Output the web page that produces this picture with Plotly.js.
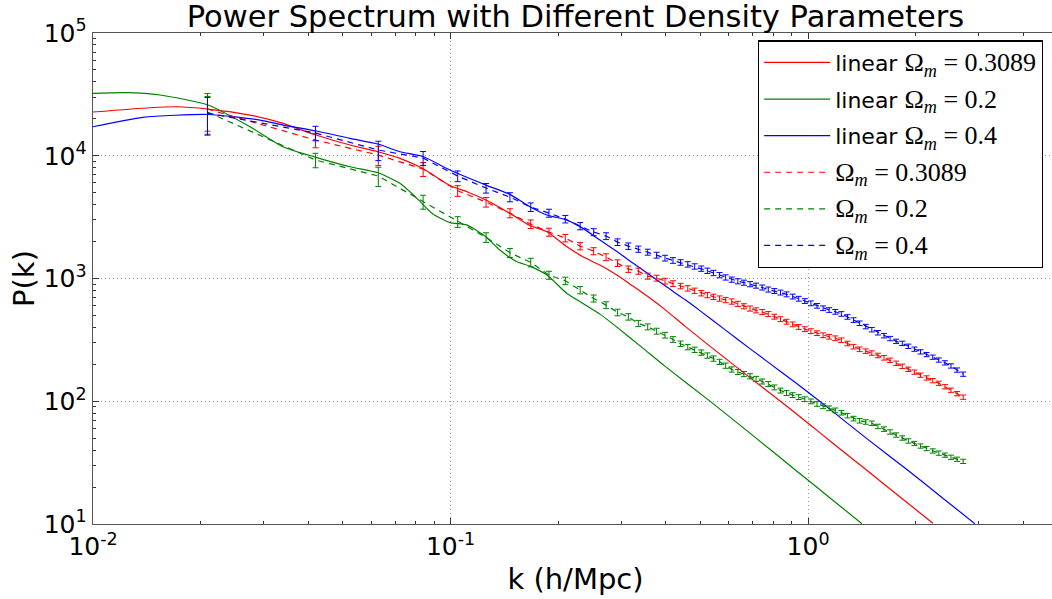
<!DOCTYPE html>
<html>
<head>
<meta charset="utf-8">
<script src="https://cdn.plot.ly/plotly-3.0.1.min.js"></script>
<style>
html,body{margin:0;padding:0;overflow:hidden;background:#fff;}
#plot{width:1058px;height:599px;}
</style>
</head>
<body>
<div id="plot"></div>
<script>
// ---------- data ----------
var seriesNames = [
  'linear <span style="font-family:Liberation Serif;font-size:26px">Ω<sub><i>m</i></sub> = 0.3089</span>',
  'linear <span style="font-family:Liberation Serif;font-size:26px">Ω<sub><i>m</i></sub> = 0.2</span>',
  'linear <span style="font-family:Liberation Serif;font-size:26px">Ω<sub><i>m</i></sub> = 0.4</span>',
  '<span style="font-family:Liberation Serif;font-size:26px">Ω<sub><i>m</i></sub> = 0.3089</span>',
  '<span style="font-family:Liberation Serif;font-size:26px">Ω<sub><i>m</i></sub> = 0.2</span>',
  '<span style="font-family:Liberation Serif;font-size:26px">Ω<sub><i>m</i></sub> = 0.4</span>'
];

// linear theory curves
var kLinRed = [0.01,0.01443,0.01706,0.02097,0.02748,0.03399,0.04204,0.05233,0.06266,0.07219,0.08318,0.09961,0.1112,0.1256,0.1466,0.1667,0.1861,0.2116,0.2346,0.2617,0.2919,0.3236,0.3611,0.4028,0.4524,0.5313,0.6573,0.8724,1.0,1.173,1.46,1.841,2.234];
var pLinRed = [22710,24610,25070,24020,21460,18370,14750,12230,10780,9524,7940,5716,5088,4355,3393,2699,2402,1813,1503,1286,1066,867,692.3,542.5,409.4,281.3,172.7,91.2,66.3,45.5,27.4,15.93,10.15];

var kLinGreen = [0.01,0.01237,0.01539,0.02097,0.02748,0.03399,0.04204,0.05233,0.06266,0.07219,0.08054,0.08929,0.09961,0.1112,0.1256,0.1374,0.1534,0.1667,0.1861,0.2116,0.2346,0.2617,0.2919,0.3451,0.3977,0.5313,0.6874,0.9305,1.166,1.414];
var pLinGreen = [32260,32620,31240,25900,17230,11840,9705,8137,7270,5960,4497,3349,2855,2724,2187,1704,1368,1262,1066,756,627,512.6,401.8,270.9,193.2,100.2,55.0,26.94,15.84,10.06];

var kLinBlue = [0.01,0.01379,0.02097,0.02931,0.03399,0.04204,0.05233,0.06266,0.07219,0.08373,0.09961,0.1256,0.1466,0.1667,0.1861,0.2116,0.2346,0.2617,0.2919,0.3236,0.3611,0.4028,0.4524,0.4981,0.5853,0.6874,0.8502,1.0,1.173,1.46,1.901,2.382,2.927];
var pLinBlue = [17230,20560,21670,19540,17790,15900,13860,12460,10780,9851,7648,5770,4845,3841,3287,2992,2561,2056,1657,1335,1066,851,673,547.4,383.3,268.4,169.4,118.6,82.3,49.6,27.4,16.23,10.06];

// measured spectra (dashed with error bars)
var kData = [0.0209,0.0419,0.0628,0.0838,0.1047,0.1257,0.1466,0.1676,0.1885,0.2094,0.2304,0.2513,0.2723,0.2932,0.3142,0.3351,0.3560,0.3770,0.3979,0.4189,0.4398,0.4608,0.4817,0.5027,0.5228,0.5437,0.5655,0.5881,0.6116,0.6361,0.6615,0.6880,0.7155,0.7441,0.7739,0.8048,0.8370,0.8705,0.9053,0.9415,0.9792,1.0184,1.0591,1.1015,1.1455,1.1913,1.2390,1.2886,1.3401,1.3937,1.4495,1.5075,1.5678,1.6305,1.6957,1.7635,1.8341,1.9074,1.9837,2.0631,2.1456,2.2314,2.3207,2.4135,2.5100,2.6104,2.7148];
var pRed = [24020,13430,10130,7792,5185,4195,3412,2776,2389,2135,1837,1672,1494,1335,1193,1149,1046,1008,952.4,910.4,868.8,832.1,795.5,759,733.8,709.5,687.1,668.1,649.6,622.1,594.6,569.5,550.6,533.3,513.6,489.2,466.8,444.6,423.4,403.2,387,372.7,358.9,345.1,335.5,326.2,314.2,295.8,278.6,265.3,256,247.1,236.2,225.8,215.9,204,192.9,182.3,172.7,163.2,154.9,147.2,140.2,131.3,123.1,115.3,108];
var pGreen = [22710,9226,6833,4218,2898,2163,1620,1353,1066,957.8,804.5,688.4,607,529.4,487.4,430.7,404.1,372.7,345.7,318.9,294.2,276.5,262.8,249.4,235.8,222.8,209.5,195.1,181.6,173.3,166.6,159.9,152.3,145,138.1,129.8,122.3,116.7,112.3,108.2,104,99.8,95.2,91.1,87.7,84.3,80.7,76.4,72.3,69.4,67.8,66.2,62.4,59.3,56.2,53.1,50.2,47.5,45.3,43.2,41.2,39.4,37.8,36.4,35,33.7,32.4];
var pBlue = [22280,15310,11130,9579,6833,5455,4607,3819,3412,3049,2674,2389,2216,1980,1837,1736,1641,1551,1467,1404,1353,1305,1255,1204,1157,1110,1066,1021,980,950,925,900,875,845,813.7,791,769,743.4,713.4,684.6,655.6,628,599.1,572.8,553.9,535.5,514.8,486.4,459,432.3,406.3,383.3,361.7,342.5,324.3,307.7,296.4,280.6,265.8,252.7,240.2,228.8,216.7,205.6,194,179.6,166.3];
// relative 1-sigma errors of the measured points
var relErr = [0.34,0.135,0.18,0.13,0.1,0.09,0.085,0.08,0.075,0.07,0.068,0.066,0.064,0.062,0.06,0.058,0.056,0.055,0.054,0.053,0.052,0.051,0.05,0.05,0.05,0.05,0.049,0.049,0.049,0.048,0.048,0.048,0.047,0.047,0.047,0.046,0.046,0.046,0.045,0.045,0.045,0.045,0.044,0.044,0.044,0.044,0.043,0.043,0.043,0.043,0.042,0.042,0.042,0.042,0.041,0.041,0.041,0.041,0.04,0.04,0.04,0.04,0.04,0.04,0.04,0.04,0.04];

var xTickVals = [0.01, 0.1, 1];
var xTickText = ['10<sup>-2</sup>', '10<sup>-1</sup>', '10<sup>0</sup>'];
var yTickVals = [10, 100, 1000, 10000, 100000];
var yTickText = ['10<sup>1</sup>', '10<sup>2</sup>', '10<sup>3</sup>', '10<sup>4</sup>', '10<sup>5</sup>'];

// ---------- styling ----------
var RED = '#ff0000', GREEN = '#008000', BLUE = '#0000ff';
function solid(x, y, c, name, g) {
  return {x: x, y: y, type: 'scatter', mode: 'lines', name: name, legendgroup: g,
          line: {color: c, width: 1.2, shape: 'spline', smoothing: 0.6}};
}
function measured(y, c, name, g) {
  return {x: kData, y: y, type: 'scatter', mode: 'lines', name: name, legendgroup: g,
          line: {color: c, width: 1.2, dash: '6px,5px'},
          error_y: {type: 'data', array: y.map(function (v, i) { return v * relErr[i]; }),
                    visible: true, thickness: 1, width: 3, color: c}};
}
var traces = [
  solid(kLinRed, pLinRed, RED, seriesNames[0], 'a'),
  solid(kLinGreen, pLinGreen, GREEN, seriesNames[1], 'b'),
  solid(kLinBlue, pLinBlue, BLUE, seriesNames[2], 'c'),
  measured(pRed, RED, seriesNames[3], 'd'),
  measured(pGreen, GREEN, seriesNames[4], 'e'),
  measured(pBlue, BLUE, seriesNames[5], 'f')
];

var axisCommon = {
  type: 'log', tickmode: 'array',
  ticks: 'inside', ticklen: 6, tickwidth: 1, tickcolor: '#333',
  minor: {ticks: 'inside', ticklen: 3, tickwidth: 1, tickcolor: '#333', dtick: 'D1', showgrid: false},
  showgrid: true, gridcolor: '#9a9a9a', gridwidth: 1, griddash: '1px,3px',
  showline: true, linecolor: '#555', linewidth: 1.4, mirror: 'allticks',
  zeroline: false, tickfont: {size: 25, color: '#000'}
};

var layout = {
  width: 1058, height: 599,
  margin: {l: 93, r: 0, t: 33, b: 75},
  paper_bgcolor: '#fff', plot_bgcolor: '#fff',
  font: {family: 'DejaVu Sans', color: '#000'},
  title: {text: 'Power Spectrum with Different Density Parameters',
          font: {size: 30.5}, x: 0.5, xref: 'paper', xanchor: 'center',
          y: 0.9725, yref: 'container', yanchor: 'middle'},
  xaxis: Object.assign({}, axisCommon, {
    range: [-2, Math.log10(5)], tickvals: xTickVals, ticktext: xTickText,
    title: {text: 'k (h/Mpc)', font: {size: 29}, standoff: 8}
  }),
  yaxis: Object.assign({}, axisCommon, {
    range: [1, 5], tickvals: yTickVals, ticktext: yTickText,
    title: {text: 'P(k)', font: {size: 29}, standoff: 0}
  }),
  showlegend: true,
  legend: {x: 0.689, y: 0.985, xanchor: 'left', yanchor: 'top',
           traceorder: 'grouped', tracegroupgap: 5, itemwidth: 66,
           bgcolor: '#fff', bordercolor: '#000', borderwidth: 1.3,
           font: {size: 22, color: '#000'}}
};

Plotly.newPlot('plot', traces, layout, {displayModeBar: false, staticPlot: true});
</script>
</body>
</html>
